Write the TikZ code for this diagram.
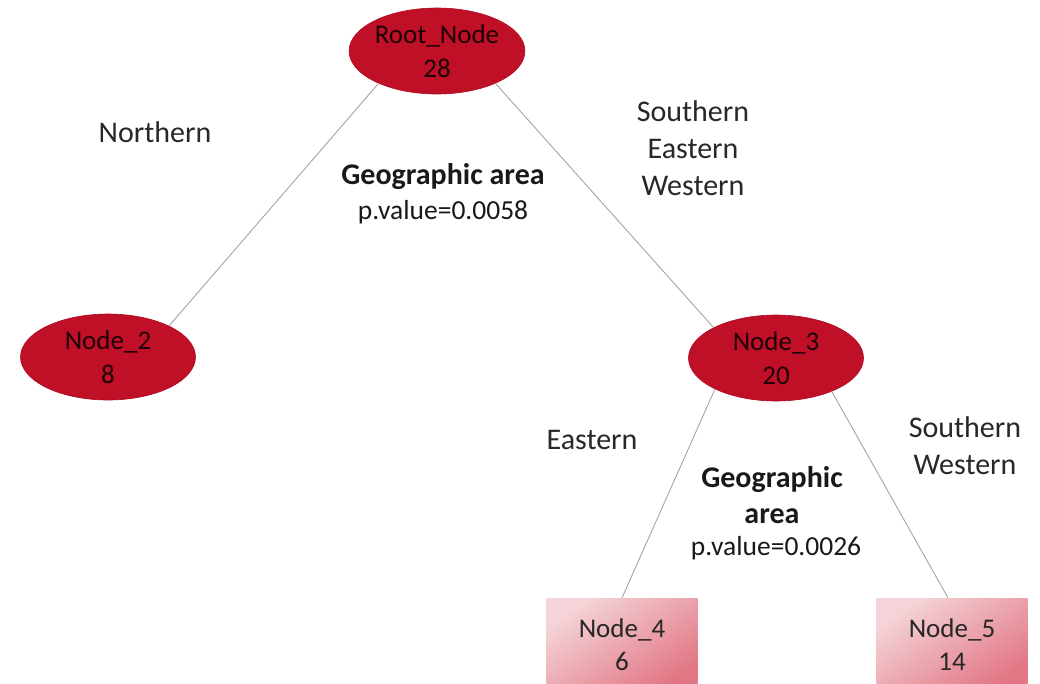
\documentclass[tikz,border=0pt]{standalone}
\usepackage{fontspec}
\setmainfont{Carlito}
\usetikzlibrary{shapes.geometric}
\definecolor{nodered}{RGB}{192,16,40}
\definecolor{nodeedge}{RGB}{175,10,32}
\definecolor{pinklight}{RGB}{244,212,216}
\definecolor{pinkdark}{RGB}{226,118,132}
\definecolor{edgegray}{RGB}{165,165,165}
\definecolor{labeltext}{RGB}{40,40,40}
\definecolor{nodetext}{RGB}{30,0,5}
\begin{document}
\begin{tikzpicture}[x=1pt,y=-1pt,
  ell/.style={ellipse, fill=nodered, draw=nodeedge, line width=0.6pt,
    minimum width=175pt, minimum height=86pt, inner sep=0pt, align=center,
    font=\fontsize{27}{34}\selectfont, text=nodetext},
  leaf/.style={rectangle, minimum width=151pt, minimum height=94pt, inner sep=0pt,
    top color=pinklight, bottom color=pinkdark, shading angle=35, align=center,
    font=\fontsize{27}{33}\selectfont, text=black!85},
  conn/.style={draw=edgegray, line width=0.9pt},
  lbl/.style={align=center, font=\fontsize{30}{37}\selectfont, text=labeltext},
  plbl/.style={align=center, font=\fontsize{27.5}{30}\selectfont, text=black!90},
  blbl/.style={align=center, font=\fontsize{30}{36}\selectfont\bfseries, text=black!90}]
\useasboundingbox (0,0) rectangle (1040,683);
\clip (0,0) rectangle (1040,683);
\fill[white] (0,0) rectangle (1040,683);

\node[ell] (root) at (437,51) {Root\_Node\\28};
\node[ell] (n2) at (108,357) {Node\_2\\8};
\node[ell] (n3) at (776,358) {Node\_3\\20};
\node[leaf] (n4) at (622,645) {Node\_4\\6};
\node[leaf] (n5) at (952,645) {Node\_5\\14};

\draw[conn] (root.-151) -- (n2.27);
\draw[conn] (root.-29) -- (n3.154);
\draw[conn] (n3.-153) -- (n4.north);
\draw[conn] (n3.-31) -- ([xshift=-4pt]n5.north);

\node[lbl] (lnorth) at (155,132) {Northern};
\node[lbl] (lsew) at (693,148) {Southern\\Eastern\\Western};
\node[blbl] (g1) at (443,177) {Geographic area};
\node[plbl] (p1) at (443,212) {p.value=0.0058};
\node[lbl] (least) at (592,440) {Eastern};
\node[lbl] (lsw) at (965,446) {Southern\\Western};
\node[blbl] (g2) at (772,495) {Geographic\\area};
\node[plbl] (p2) at (776,548) {p.value=0.0026};
\end{tikzpicture}
\end{document}
